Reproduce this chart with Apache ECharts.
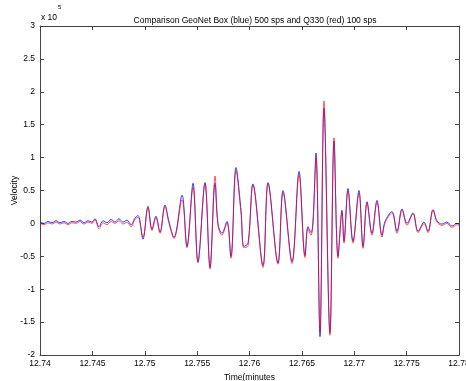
<!DOCTYPE html>
<html>
<head>
<meta charset="utf-8">
<script src="https://cdn.jsdelivr.net/npm/echarts@6/dist/echarts.min.js"></script>
<style>
  html, body { margin: 0; padding: 0; background: #fff; }
  #chart { width: 466px; height: 381px; }
</style>
</head>
<body>
<div id="chart"></div>
<script>
// time in minutes, velocity in units of 10^5 (as the axis shows)
const times = [
  12.74000, 12.74038, 12.74076, 12.74115, 12.74153, 12.74191, 12.74229, 12.74267, 12.74305, 12.74344,
  12.74382, 12.74420, 12.74458, 12.74496, 12.74525, 12.74563, 12.74601, 12.74640, 12.74678, 12.74716,
  12.74754, 12.74792, 12.74831, 12.74869, 12.74907, 12.74936, 12.74983, 12.75031, 12.75069, 12.75107,
  12.75146, 12.75193, 12.75231, 12.75279, 12.75356, 12.75403, 12.75461, 12.75508, 12.75575, 12.75623,
  12.75671, 12.75699, 12.75737, 12.75785, 12.75823, 12.75871, 12.75919, 12.75947, 12.75986, 12.76033,
  12.76129, 12.76177, 12.76272, 12.76320, 12.76406, 12.76473, 12.76530, 12.76558, 12.76587, 12.76606,
  12.76635, 12.76673, 12.76711, 12.76768, 12.76807, 12.76845, 12.76883, 12.76902, 12.76940, 12.76988,
  12.77045, 12.77084, 12.77122, 12.77169, 12.77217, 12.77265, 12.77294, 12.77360, 12.77408, 12.77456,
  12.77504, 12.77561, 12.77609, 12.77666, 12.77704, 12.77752, 12.77790, 12.77838, 12.77885, 12.77933,
  12.77981, 12.78000
];
const blueVel = [
  0.02, 0.00, 0.03, 0.01, 0.04, 0.01, 0.03, 0.00, 0.03, 0.02,
  0.05, 0.01, 0.04, 0.02, 0.07, -0.05, 0.04, 0.01, 0.06, 0.02,
  0.07, 0.02, 0.05, -0.02, 0.08, 0.12, -0.24, 0.26, -0.09, 0.11,
  -0.13, 0.28, 0.03, -0.21, 0.43, -0.35, 0.61, -0.58, 0.62, -0.67,
  0.61, 0.00, -0.15, 0.03, -0.50, 0.85, 0.20, -0.35, -0.30, 0.60,
  -0.64, 0.62, -0.60, 0.50, -0.58, 0.79, -0.49, -0.05, -0.14, 0.03,
  1.07, -1.72, 1.75, -1.66, 1.25, -0.50, 0.20, -0.27, 0.53, -0.27,
  0.50, -0.35, 0.33, -0.15, 0.35, -0.18, 0.03, 0.18, -0.12, 0.22,
  0.00, 0.16, -0.12, 0.02, -0.12, 0.21, 0.04, -0.01, 0.02, -0.04,
  0.00, -0.02
];
const redVel = [
  0.00, -0.02, 0.01, -0.01, 0.02, -0.01, 0.01, -0.02, 0.01, 0.00,
  0.03, -0.01, 0.02, 0.00, 0.05, -0.08, 0.01, -0.02, 0.03, 0.00,
  0.04, -0.01, 0.02, -0.05, 0.06, 0.09, -0.21, 0.24, -0.11, 0.09,
  -0.15, 0.26, 0.00, -0.23, 0.36, -0.37, 0.55, -0.60, 0.61, -0.69,
  0.72, -0.03, -0.18, 0.01, -0.53, 0.80, 0.15, -0.37, -0.34, 0.58,
  -0.67, 0.61, -0.62, 0.47, -0.61, 0.74, -0.52, -0.08, -0.18, 0.00,
  1.00, -1.65, 1.86, -1.70, 1.30, -0.53, 0.17, -0.30, 0.50, -0.30,
  0.46, -0.38, 0.31, -0.18, 0.32, -0.21, 0.01, 0.16, -0.15, 0.20,
  -0.03, 0.15, -0.14, 0.00, -0.14, 0.20, 0.02, -0.03, 0.00, -0.06,
  -0.02, -0.04
];

const font = 'Liberation Sans, Arial, sans-serif';
const axisColor = '#444';

var myChart = echarts.init(document.getElementById('chart'));

const xCommon = {
  type: 'value', min: 12.74, max: 12.78, interval: 0.005,
  axisLine: { show: true, onZero: false, lineStyle: { color: axisColor, width: 1 } },
  axisTick: { show: true, inside: true, length: 4, lineStyle: { color: axisColor } },
  splitLine: { show: false }
};
const yCommon = {
  type: 'value', min: -2, max: 3, interval: 0.5,
  axisLine: { show: true, onZero: false, lineStyle: { color: axisColor, width: 1 } },
  axisTick: { show: true, inside: true, length: 4, lineStyle: { color: axisColor } },
  splitLine: { show: false }
};

myChart.setOption({
  animation: false,
  textStyle: { fontFamily: font },
  title: {
    text: 'Comparison GeoNet Box (blue) 500 sps and Q330 (red) 100 sps',
    left: 250, top: 11, textAlign: 'center',
    textStyle: { fontSize: 8.5, fontWeight: 'normal', color: '#000', fontFamily: font }
  },
  grid: { left: 40, right: 7, top: 26, bottom: 26, containLabel: false, outerBoundsMode: 'none' },
  xAxis: [
    Object.assign({}, xCommon, {
      position: 'bottom',
      name: 'Time(minutes', nameLocation: 'middle', nameGap: 18, nameMoveOverlap: false,
      nameTextStyle: { fontSize: 8.5, color: '#000', fontFamily: font },
      axisLabel: {
        fontSize: 8.5, color: '#000', margin: 4, fontFamily: font,
        showMaxLabel: true, hideOverlap: false,
        formatter: v => String(parseFloat(v.toFixed(3)))
      }
    }),
    Object.assign({}, xCommon, { position: 'top', axisLabel: { show: false } })
  ],
  yAxis: [
    Object.assign({}, yCommon, {
      position: 'left',
      name: 'Velocity', nameLocation: 'middle', nameGap: 21, nameMoveOverlap: false,
      nameTextStyle: { fontSize: 8.5, color: '#000', fontFamily: font },
      axisLabel: {
        fontSize: 8.5, color: '#000', margin: 5, fontFamily: font,
        formatter: v => String(parseFloat(v.toFixed(1)))
      }
    }),
    Object.assign({}, yCommon, { position: 'right', axisLabel: { show: false } })
  ],
  graphic: [
    { type: 'text', left: 41, top: 13, style: { text: 'x 10', font: '8.5px ' + font, fill: '#000' } },
    { type: 'text', left: 58, top: 4, style: { text: '5', font: '6px ' + font, fill: '#000' } }
  ],
  series: [
    {
      name: 'GeoNet Box', type: 'line', xAxisIndex: 0, yAxisIndex: 0,
      data: times.map((t, i) => [t, blueVel[i]]),
      showSymbol: false, smooth: 0.35,
      lineStyle: { color: '#0000ff', width: 1, opacity: 0.75 }
    },
    {
      name: 'Q330', type: 'line', xAxisIndex: 0, yAxisIndex: 0,
      data: times.map((t, i) => [t, redVel[i]]),
      showSymbol: false, smooth: 0.35,
      lineStyle: { color: '#ff0000', width: 1, opacity: 0.65 }
    }
  ]
});
</script>
</body>
</html>
